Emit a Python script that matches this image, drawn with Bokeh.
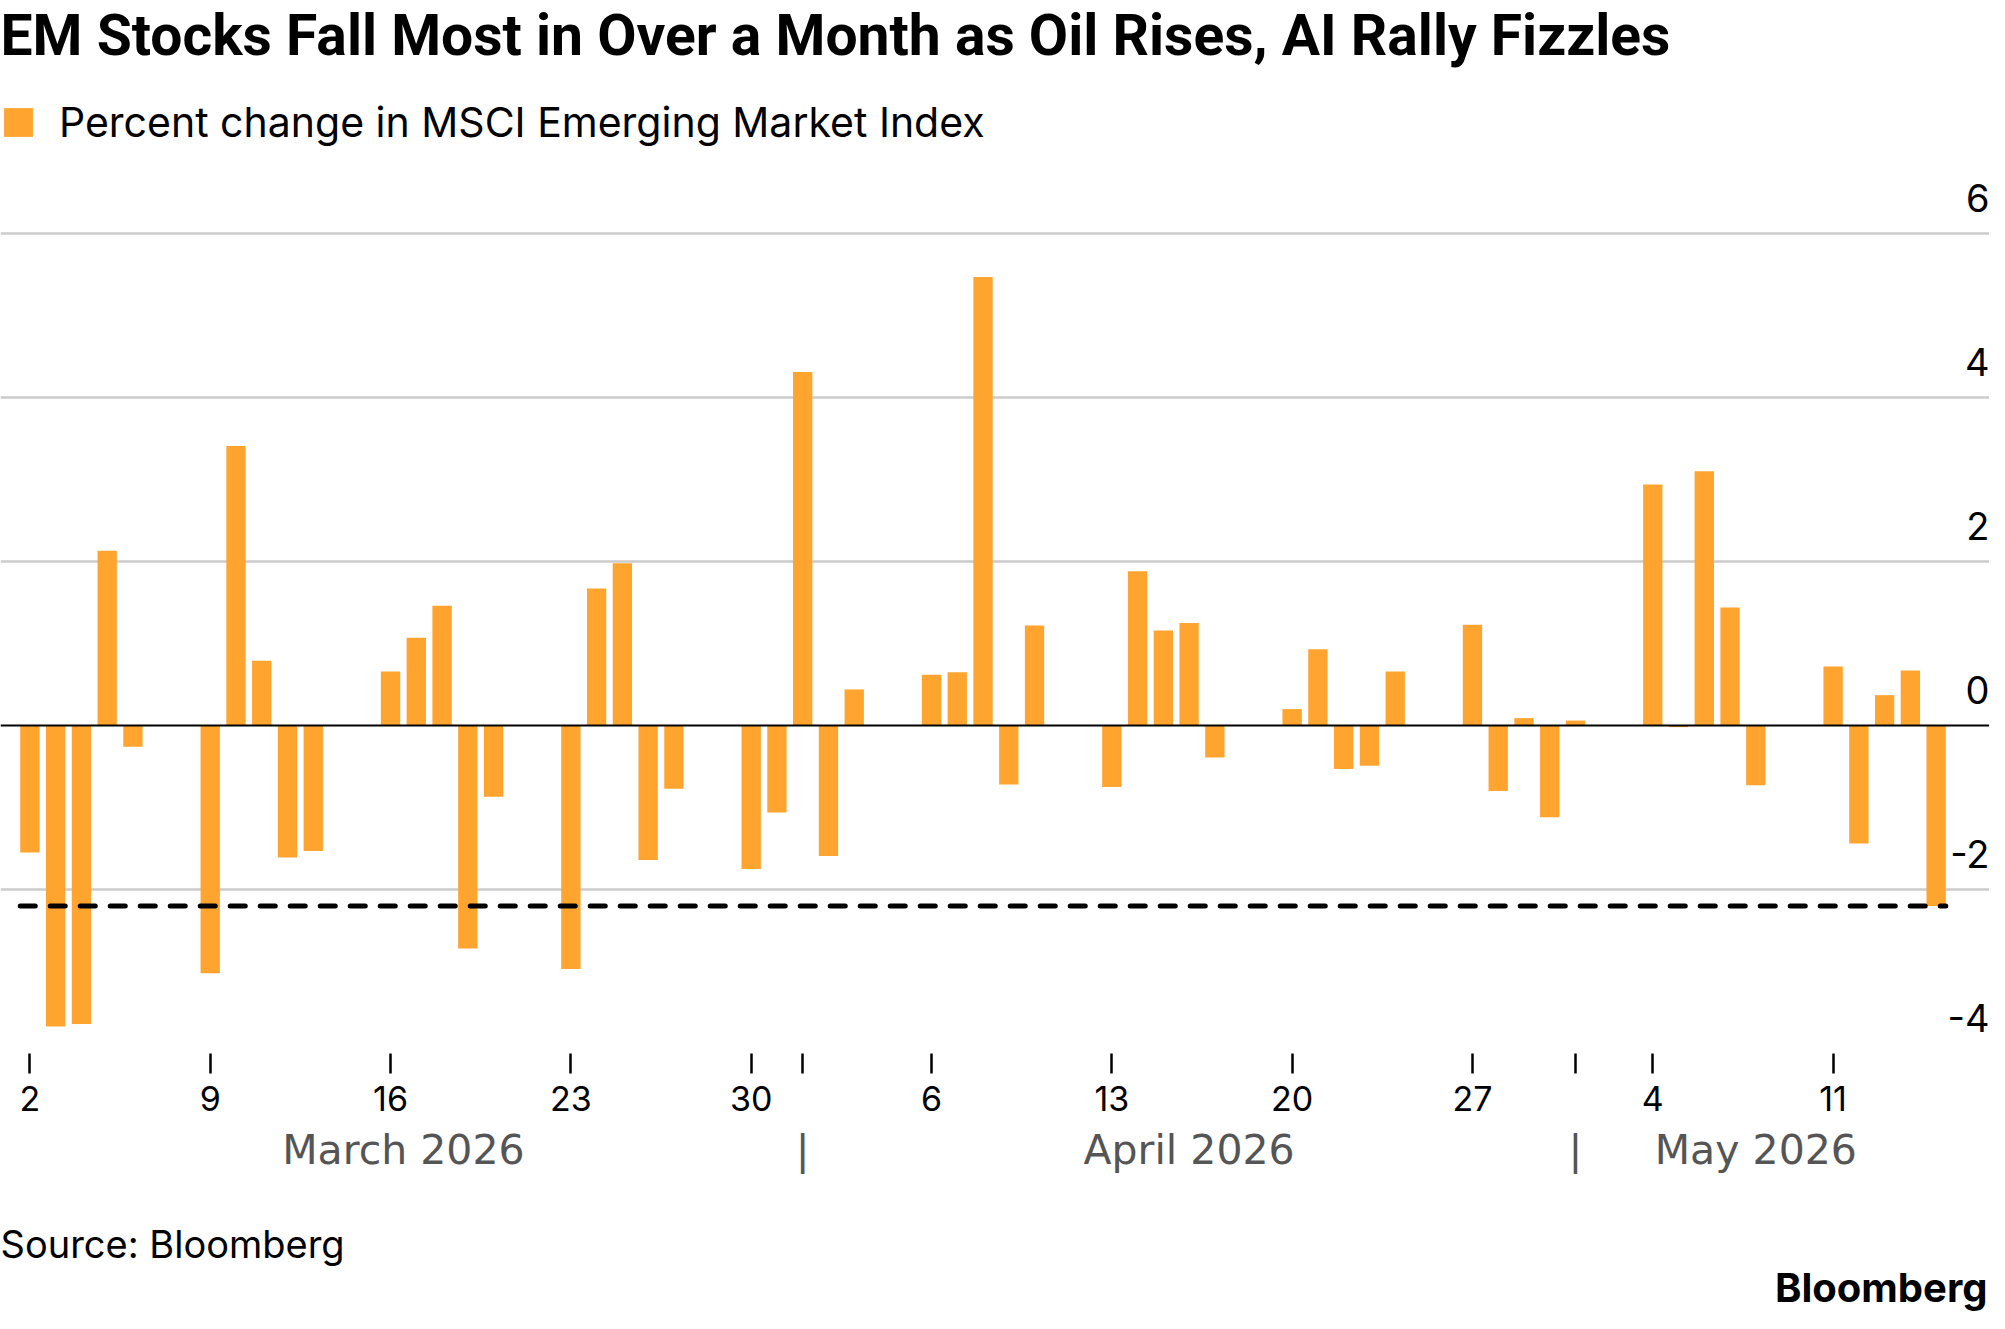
import pandas as pd
from bokeh.plotting import figure
from bokeh.models import (ColumnDataSource, Range1d, FixedTicker, LinearAxis, Grid,
                          Span, Label, Legend, LegendItem, Title)
from bokeh.embed import file_html
from bokeh.resources import INLINE
from bokeh.core.properties import value

# ---------------- data ----------------
march_days = [2, 3, 4, 5, 6, 9, 10, 11, 12, 13, 16, 17, 18, 19, 20, 23, 24, 25, 26, 27, 30, 31]
march_values = [-1.55, -3.67, -3.64, 2.13, -0.26, -3.02, 3.41, 0.79, -1.61, -1.53,
                0.66, 1.07, 1.46, -2.72, -0.87, -2.97, 1.67, 1.98, -1.64, -0.77, -1.75, -1.06]
april_days = [1, 2, 3, 6, 7, 8, 9, 10, 13, 14, 15, 16, 17, 20, 21, 22, 23, 24, 27, 28, 29, 30]
april_values = [4.31, -1.59, 0.44, 0.62, 0.65, 5.47, -0.72, 1.22, -0.75, 1.88, 1.16, 1.25,
                -0.39, 0.20, 0.93, -0.53, -0.49, 0.66, 1.23, -0.80, 0.09, -1.12]
may_days = [1, 4, 5, 6, 7, 8, 11, 12, 13, 14, 15]
may_values = [0.06, 2.94, -0.02, 3.10, 1.44, -0.73, 0.72, -1.44, 0.37, 0.67, -2.20]

week_tick_dates = ["2026-03-02", "2026-03-09", "2026-03-16", "2026-03-23", "2026-03-30",
                   "2026-04-06", "2026-04-13", "2026-04-20", "2026-04-27",
                   "2026-05-04", "2026-05-11"]
week_tick_labels = ["2", "9", "16", "23", "30", "6", "13", "20", "27", "4", "11"]
month_labels = ["March 2026", "April 2026", "May 2026"]
month_first_dates = ["2026-03-01", "2026-04-01", "2026-05-01"]
y_ticks = [-4, -2, 0, 2, 4, 6]
y_tick_labels = ["-4", "-2", "0", "2", "4", "6"]

title_text = "EM Stocks Fall Most in Over a Month as Oil Rises, AI Rally Fizzles"
legend_text = "Percent change in MSCI Emerging Market Index"
source_text = "Source: Bloomberg"
brand_text = "Bloomberg"

# ---------------- derived ----------------
origin = pd.Timestamp("2026-03-01")
dates = ([f"2026-03-{d:02d}" for d in march_days] +
         [f"2026-04-{d:02d}" for d in april_days] +
         [f"2026-05-{d:02d}" for d in may_days])
values = march_values + april_values + may_values


def day_index(ds):
    return [int((pd.Timestamp(d) - origin).days) for d in ds]


x_idx = day_index(dates)
week_ticks = day_index(week_tick_dates)
month_firsts = day_index(month_first_dates)
separators = month_firsts[1:]
bounds = month_firsts + [x_idx[-1]]
month_centers = [(bounds[i] + bounds[i + 1]) / 2 for i in range(len(month_labels))]

BAR_W = 0.75
ORANGE = "#FFA42E"
W, H = 1989, 1313
PX_PER_DAY = 25.76
PX_PER_UNIT = 82.0
FRAME_BOTTOM = 1053

x_start = x_idx[0] - 29.4 / PX_PER_DAY
x_end = x_start + W / PX_PER_DAY
y_top = -4 + FRAME_BOTTOM / PX_PER_UNIT

p = figure(width=W, height=H, output_backend="svg", toolbar_location=None,
           x_range=Range1d(x_start, x_end), y_range=Range1d(-4, y_top),
           y_axis_location=None, min_border_left=0, min_border_right=0,
           min_border_top=0, min_border_bottom=H - FRAME_BOTTOM)
p.outline_line_color = None
p.background_fill_color = "white"
p.border_fill_color = "white"
for g in p.grid:
    g.visible = False

grid = Grid(dimension=1, ticker=FixedTicker(ticks=[t for t in y_ticks if t != 0]),
            grid_line_color="#cccccc", grid_line_width=2.5)
p.add_layout(grid)

src = ColumnDataSource(dict(x=x_idx, top=values))
bars = p.vbar(x="x", top="top", bottom=0, width=BAR_W, source=src,
              fill_color=ORANGE, line_color=None)

p.add_layout(Span(location=0, dimension="width", line_color="black", line_width=2.2))

# dashed reference at the latest value
last_val = values[-1]
p.segment(x0=[x_idx[0] - BAR_W / 2], y0=[last_val], x1=[x_idx[-1] + BAR_W / 2], y1=[last_val],
          line_color="black", line_width=5, line_dash="15 15", line_cap="round")

# y tick labels above gridlines at right edge
ysrc = ColumnDataSource(dict(x=[x_end] * len(y_ticks), y=y_ticks, t=y_tick_labels))
p.text(x="x", y="y", text="t", source=ysrc, text_align="right", text_baseline="alphabetic",
       y_offset=-36, text_font=value("Inter"), text_font_size="38px", text_color="black")

# x axis: day numbers
ax1 = p.xaxis[0]
ax1.ticker = FixedTicker(ticks=week_ticks + separators)
overrides1 = {t: l for t, l in zip(week_ticks, week_tick_labels)}
overrides1.update({s: "" for s in separators})
ax1.major_label_overrides = overrides1
ax1.axis_line_color = None
ax1.major_tick_in = 0
ax1.major_tick_out = 20
ax1.major_tick_line_width = 2.5
ax1.major_tick_line_color = "black"
ax1.minor_tick_line_color = None
ax1.major_label_standoff = 12
ax1.major_label_text_font = "Inter"
ax1.major_label_text_font_size = "34px"
ax1.major_label_text_color = "black"

# month row
ax2 = LinearAxis(ticker=FixedTicker(ticks=month_centers + separators))
overrides2 = {c: m for c, m in zip(month_centers, month_labels)}
overrides2.update({s: "|" for s in separators})
ax2.major_label_overrides = overrides2
ax2.axis_line_color = None
ax2.major_tick_line_color = None
ax2.minor_tick_line_color = None
ax2.major_tick_in = 0
ax2.major_tick_out = 0
ax2.major_label_standoff = 12
ax2.major_label_text_font = "DejaVu Sans"
ax2.major_label_text_font_size = "41px"
ax2.major_label_text_color = "#555555"
p.add_layout(ax2, "below")

# footer (a blank spacer title pushes the source line down)
p.add_layout(Title(text=" ", align="left", text_font_size="10px", text_color="white",
                   standoff=35), "below")
p.add_layout(Title(text=source_text, align="left", text_font="Inter", text_font_size="38px",
                   text_font_style="normal", text_color="black", standoff=-12, offset=0), "below")
p.add_layout(Title(text=brand_text, align="right", text_font="Inter", text_font_size="40px",
                   text_font_style="bold", text_color="black", standoff=0, offset=2), "below")

# title / legend
p.add_layout(Label(x=0, y=35, x_units="canvas", y_units="canvas", text=title_text,
                   text_font="Roboto", text_font_style="bold",
                   text_font_size="57px", text_baseline="alphabetic", text_color="black"))

legend = Legend(items=[LegendItem(label=legend_text, renderers=[bars])],
                location=(0, 906), orientation="horizontal", padding=0, margin=0,
                border_line_color=None, background_fill_alpha=0,
                glyph_width=36, glyph_height=36, label_standoff=23, label_height=36,
                label_text_font="Inter", label_text_font_size="41px",
                label_text_color="black")
p.add_layout(legend)

open("out.html", "w").write(file_html(p, INLINE, title="EM Stocks"))
